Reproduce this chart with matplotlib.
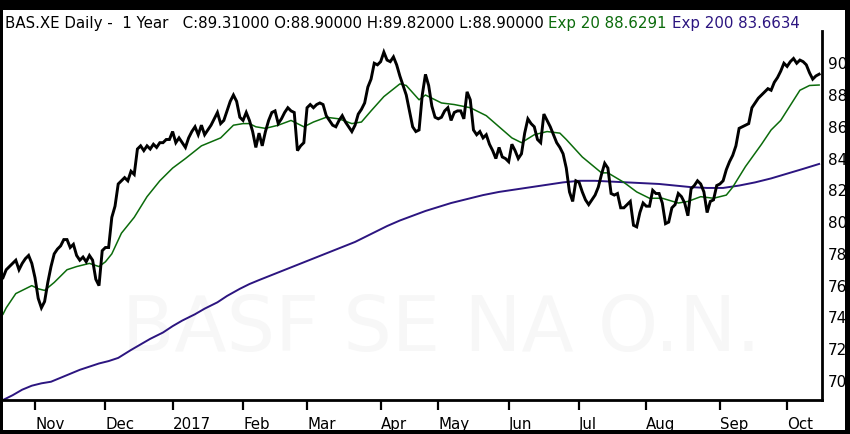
import matplotlib
matplotlib.use("Agg")
import matplotlib.pyplot as plt
from matplotlib.patches import Rectangle
import numpy as np
import pandas as pd

# daily closes
close = [
    76.5, 77.0, 77.2, 77.4, 77.6, 77.0, 77.4, 77.7, 77.9, 77.4,
    76.5, 75.2, 74.6, 75.0, 76.2, 77.2, 78.0, 78.3, 78.5, 78.9,
    78.9, 78.4, 78.6, 77.9, 77.6, 77.8, 77.5, 77.9, 77.6, 76.4,
    76.0, 78.2, 78.4, 78.4, 80.3, 81.0, 82.4, 82.6, 82.8, 82.6,
    83.2, 83.0, 84.6, 84.8, 84.5, 84.8, 84.6, 84.9, 84.7, 85.0,
    85.0, 85.2, 85.2, 85.7, 85.0, 85.3, 85.0, 84.7, 85.3, 85.7,
    86.0, 85.5, 86.1, 85.5, 85.8, 86.1, 86.5, 86.9, 86.2, 86.4,
    87.0, 87.6, 88.0, 87.6, 86.6, 86.4, 86.9, 86.4, 85.7, 84.7,
    85.6, 84.8, 85.7, 86.4, 86.9, 87.0, 86.2, 86.5, 86.9,
    87.2, 87.0, 86.9, 84.5, 84.8, 85.0, 87.2, 87.4, 87.2, 87.4,
    87.5, 87.4, 86.7, 86.4, 86.1, 86.0, 86.4, 86.7, 86.3, 86.0,
    85.7, 86.1, 86.8, 87.1, 87.5, 88.5, 89.0, 90.0, 89.9, 90.1,
    90.7, 90.2, 90.1, 90.4, 89.9, 89.2, 88.6, 88.0, 87.0, 86.0,
    85.7, 85.8, 88.0, 89.3, 88.6, 87.3, 86.6, 86.5, 86.6, 87.0,
    87.2, 86.4, 86.9, 87.0, 87.0, 86.5, 88.2, 87.7, 85.8, 85.5,
    85.7, 85.3, 85.5, 84.9, 84.5, 84.0, 84.7, 84.1, 84.0, 83.8,
    84.9, 84.5, 84.0, 84.3, 85.6, 86.5, 86.2, 86.0, 85.2, 85.0,
    86.8, 86.4, 86.0, 85.5, 85.0, 84.7, 84.3, 83.4, 81.9,
    81.3, 82.6, 82.5, 81.9, 81.4, 81.1, 81.4, 81.7, 82.2, 83.0,
    83.7, 83.4, 81.8, 81.7, 81.8, 80.9, 80.9, 81.1, 81.3, 79.8,
    79.7, 80.6, 81.2, 81.0, 81.0, 82.0, 81.8, 81.8, 81.2, 79.9,
    80.0, 80.9, 81.1, 81.8, 81.6, 81.2, 80.4, 82.1, 82.3, 82.6,
    82.4, 81.9, 80.6, 81.3, 81.4, 82.3, 82.4, 82.6, 83.3, 83.8,
    84.2, 84.8, 85.9, 86.0, 86.1, 86.2, 87.2, 87.5, 87.8, 88.0,
    88.2, 88.4, 88.3, 88.8, 89.1, 89.5, 90.0, 89.8, 90.1, 90.3,
    90.0, 90.2, 90.1, 89.9, 89.4, 89.0, 89.2, 89.31,
]

# moving averages sampled at trading-day positions
ema20_day = [0, 1, 4, 9, 11, 13, 16, 20, 23, 27, 30, 32, 34, 37, 41, 45, 49, 53, 57,
             62, 68, 72, 75, 77, 79, 82, 86, 90, 94, 97, 101, 105, 109, 112, 115, 119,
             124, 126, 130, 132, 137, 141, 146, 151, 155, 159, 162, 166, 170, 174, 176,
             181, 187, 189, 194, 198, 202, 206, 211, 214, 218, 222, 226, 228, 232, 237,
             240, 243, 249, 252, 255]
ema20_val = [74.2, 74.6, 75.5, 76.0, 75.8, 75.7, 76.2, 77.0, 77.2, 77.4, 77.2, 77.5,
             78.0, 79.3, 80.3, 81.6, 82.6, 83.4, 84.0, 84.8, 85.3, 86.1, 86.2, 86.2,
             86.0, 85.9, 86.1, 86.4, 86.0, 86.3, 86.6, 86.5, 86.2, 86.3, 87.0, 87.9,
             88.7, 88.6, 87.7, 88.0, 87.5, 87.4, 87.2, 86.7, 86.0, 85.3, 85.0, 85.5,
             85.7, 85.6, 85.2, 84.1, 83.1, 83.1, 82.5, 81.9, 81.5, 81.5, 81.2, 81.3,
             81.6, 81.5, 81.7, 82.2, 83.5, 84.9, 85.8, 86.4, 88.3, 88.6, 88.63]

ema200_day = [0, 3, 6, 9, 12, 15, 18, 21, 24, 27, 30, 33, 36, 40, 43, 46, 50, 53, 56,
              60, 63, 67, 70, 74, 77, 80, 85, 90, 95, 100, 105, 110, 115, 120, 124, 128,
              132, 136, 140, 145, 150, 155, 160, 165, 170, 175, 180, 185, 190, 195, 200,
              205, 210, 215, 220, 225, 230, 235, 240, 245, 250, 255]
ema200_val = [68.8, 69.1, 69.45, 69.7, 69.85, 69.95, 70.2, 70.45, 70.7, 70.9, 71.1,
              71.25, 71.45, 71.95, 72.3, 72.65, 73.05, 73.45, 73.8, 74.2, 74.55, 74.95,
              75.35, 75.8, 76.1, 76.35, 76.75, 77.15, 77.55, 77.95, 78.35, 78.75, 79.25,
              79.75, 80.1, 80.4, 80.7, 80.95, 81.2, 81.45, 81.7, 81.9, 82.05, 82.2, 82.35,
              82.5, 82.6, 82.6, 82.55, 82.5, 82.45, 82.4, 82.3, 82.2, 82.15, 82.15, 82.3,
              82.5, 82.75, 83.05, 83.35, 83.66]

holidays = ["2016-12-26", "2017-04-14", "2017-04-17", "2017-05-01"]
month_labels = ["Nov", "Dec", "2017", "Feb", "Mar", "Apr", "May", "Jun",
                "Jul", "Aug", "Sep", "Oct"]
y_ticks = [70, 72, 74, 76, 78, 80, 82, 84, 86, 88, 90]

GREEN = "#0b6b0b"
NAVY = "#2c1580"
title_parts = [
    ("BAS.XE Daily -  1 Year   C:89.31000 O:88.90000 H:89.82000 L:88.90000 ", "black"),
    ("Exp 20 88.6291 ", GREEN),
    ("Exp 200 83.6634", NAVY),
]

n = len(close)
dates = pd.bdate_range("2016-10-18", periods=n + 5, freq="C", holidays=holidays)[:n]
month_idx = [i for i in range(1, n) if dates[i].month != dates[i - 1].month]

W, H = 850, 434
fig = plt.figure(figsize=(W / 100, H / 100), dpi=100, facecolor="black")
fig.patches.append(Rectangle((3 / W, 4 / H), 842 / W, 420 / H, transform=fig.transFigure,
                             facecolor="white", edgecolor="none", zorder=-5))

ax = fig.add_axes([3 / W, 34 / H, 819 / W, 369 / H])
ax.set_zorder(2)
ax.set_facecolor("none")

ax.text(0.535, 0.19, "BASF SE NA O.N.", transform=ax.transAxes, ha="center", va="center",
        fontsize=55, color="#f7f7f7", zorder=0)

x = np.arange(n)
ax.plot(ema200_day, ema200_val, color=NAVY, lw=1.4, zorder=2)
ax.plot(ema20_day, ema20_val, color=GREEN, lw=1.1, zorder=3)
ax.plot(x, close, color="black", lw=2.1, zorder=4, solid_joinstyle="miter")

ax.set_xlim(0, n - 0.1)
ax.set_ylim(68.8, 92.03)

for s in ("top", "left"):
    ax.spines[s].set_visible(False)
for s in ("right", "bottom"):
    ax.spines[s].set_linewidth(2)
    ax.spines[s].set_color("black")

ax.set_xticks(month_idx)
ax.set_xticklabels(month_labels[:len(month_idx)], ha="left")
ax.tick_params(axis="x", direction="out", length=7, width=1.6, pad=5, labelsize=10.8)
ax.yaxis.tick_right()
ax.set_yticks(y_ticks)
ax.tick_params(axis="y", length=0, pad=4, labelsize=11)

# title made of coloured pieces laid side by side
fig.canvas.draw()
renderer = fig.canvas.get_renderer()
xpos = 5 / W
for txt, col in title_parts:
    t = fig.text(xpos, (H - 28) / H, txt, color=col, fontsize=10.85, va="baseline",
                 ha="left", zorder=5)
    bb = t.get_window_extent(renderer)
    xpos = bb.x1 / W

fig.savefig("out.png", dpi=100, facecolor="black")
